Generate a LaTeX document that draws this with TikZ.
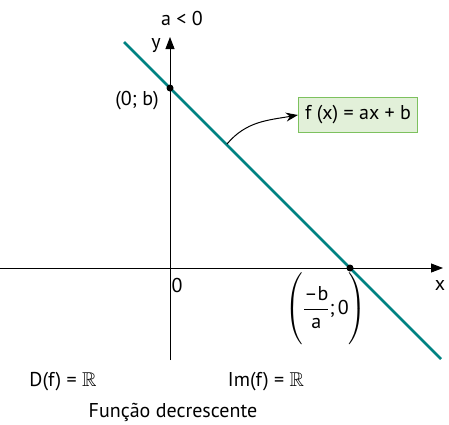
\documentclass[tikz,border=0pt]{standalone}
\usepackage{amsmath,amssymb}
\usepackage{fontspec}
\setmainfont{PT Sans}
\usetikzlibrary{arrows.meta}
\definecolor{teal1}{RGB}{0,130,130}
\definecolor{boxfill}{RGB}{226,240,217}
\definecolor{boxline}{RGB}{125,193,94}
\begin{document}
\begin{tikzpicture}[x=1pt,y=-1pt,
  lbl/.style={inner sep=0pt,font=\fontsize{20}{22}\selectfont},
  axis/.style={draw=black,line width=0.9pt,-{Triangle[length=12pt,width=9pt]}},
  dotp/.style={circle,fill=black,inner sep=0pt,minimum size=7pt}]
\useasboundingbox (0,0) rectangle (449,424);
\coordinate (xs) at (0,268);
\coordinate (xe) at (443,268);
\coordinate (ys) at (170,360);
\coordinate (ye) at (170,37);
\draw[axis] (xs) -- (xe);
\draw[axis] (ys) -- (ye);
\coordinate (ls) at (124,42);
\coordinate (le) at (441,359);
\draw[teal1,line width=2.6pt] (ls) -- (le);
\node[dotp] (b) at (170,88) {};
\node[dotp] (r) at (350,268) {};
\node[lbl] (alt) at (182,18) {a < 0};
\node[lbl] (ylab) at (156,46) {y};
\node[lbl] (blab) at (137,101) {(0; b)};
\node[lbl] (zero) at (177,285) {0};
\node[lbl] (xlab) at (440,285) {x};
\node[lbl] (root) at (326,309) {$\left(\rule[-30pt]{0pt}{64pt}\dfrac{\text{–b}}{\text{a}}\text{;\,0}\right)$};
\node[lbl,draw=boxline,fill=boxfill,line width=1.2pt,minimum width=119pt,minimum height=35pt] (fbox) at (358,115) {f (x) = ax + b};
\coordinate (cs) at (227,144);
\draw[line width=1pt,-{Stealth[length=12pt,width=9pt]}] (cs) to[out=50,in=190] (fbox.west);
\node[lbl] (dom) at (63,382) {D(f) = $\mathbb{R}$};
\node[lbl] (img) at (266,382) {Im(f) = $\mathbb{R}$};
\node[lbl] (cap) at (173,412) {Função decrescente};
\end{tikzpicture}
\end{document}
